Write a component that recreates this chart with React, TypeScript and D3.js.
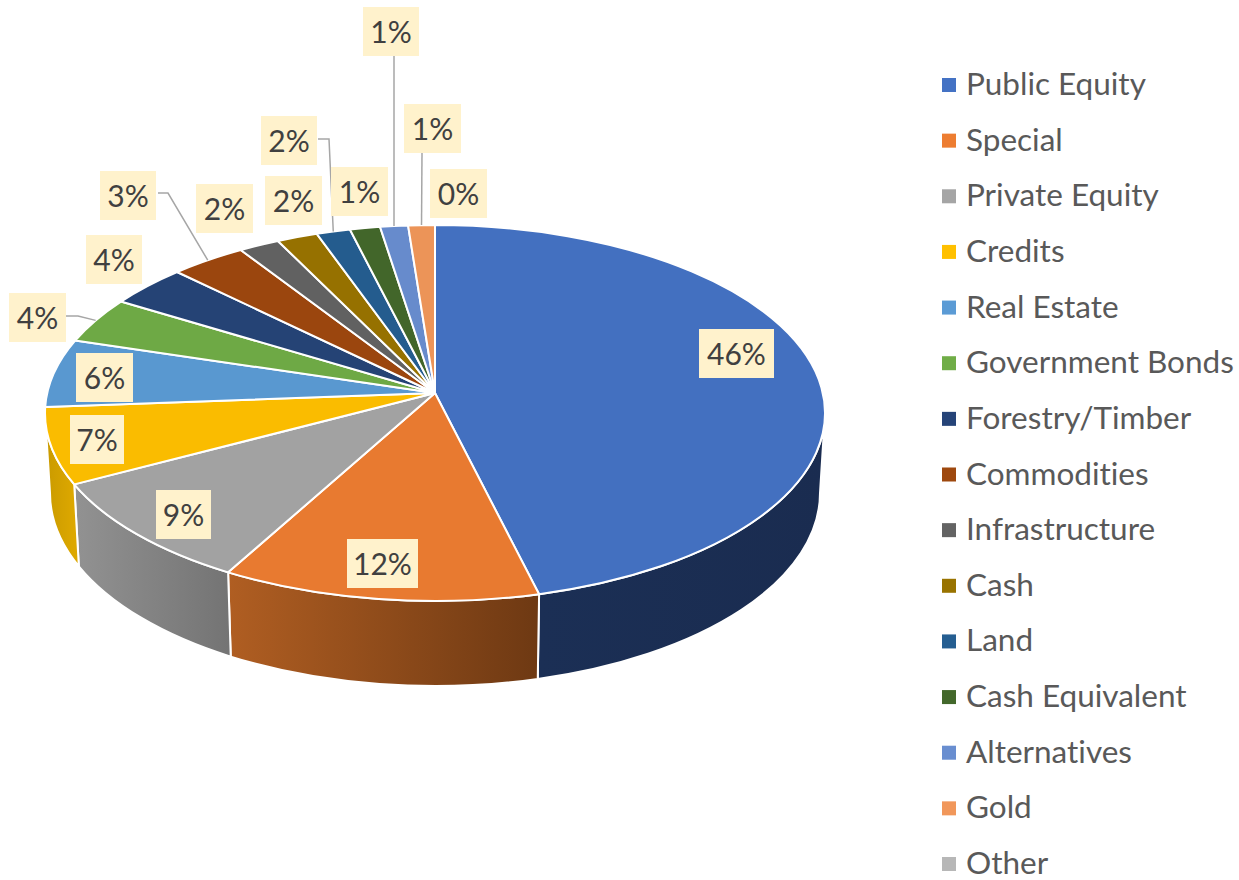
import React from "react";
import * as d3 from "d3";

const categories = [
  "Public Equity", "Special", "Private Equity", "Credits", "Real Estate",
  "Government Bonds", "Forestry/Timber", "Commodities", "Infrastructure",
  "Cash", "Land", "Cash Equivalent", "Alternatives", "Gold", "Other",
];
// slice sizes as drawn on the (perspective) pie
const sliceShares = [45.7, 13.2, 9.9, 6.7, 5.8, 3.8, 3.4, 3.2, 1.7, 1.7, 1.4, 1.25, 1.15, 1.1, 0];
const percentLabels = ["46%", "12%", "9%", "7%", "6%", "4%", "4%", "3%", "2%", "2%", "2%", "1%", "1%", "1%", "0%"];
const colors = [
  "#4472C4", "#ED7D31", "#A5A5A5", "#FFC000", "#5B9BD5", "#70AD47", "#264478",
  "#9E480E", "#636363", "#997300", "#255E91", "#43682B", "#698ED0", "#F1975A", "#B7B7B7",
];

// side wall shading, left and right end of each visible wall
const wallShades: Record<string, [string, string]> = {
  "Public Equity": ["#1B2F55", "#1A2C50"],
  Special: ["#B05E22", "#6E3913"],
  "Private Equity": ["#929292", "#747474"],
  Credits: ["#C99A00", "#DDA800"],
};

// hand placed data label boxes: left, top, width
const labelBoxes = [
  [699, 329, 75], [347, 539, 71], [156, 490, 55], [70, 415, 54], [76, 353, 57],
  [9, 293, 57], [86, 235, 56], [100, 171, 56], [196, 184, 57], [265, 176, 57],
  [261, 116, 56], [331, 167, 57], [363, 7, 56], [404, 104, 57], [430, 169, 57],
];
const boxHeight = 49;

// leader lines: slice index, then the points before the slice edge
const leaders: [number, number[][]][] = [
  [5, [[66, 316], [78, 316]]],
  [7, [[158, 193], [168, 193]]],
  [10, [[318, 139], [329, 139]]],
  [12, [[394, 56]]],
  [13, [[422, 153]]],
];

const W = 1239;
const H = 880;
const apex = { x: 435, y: 393 };
const top = { cx: 435, cy: 413, rx: 390, ry: 188 };
const bottom = { cx: 435, cy: 493, rx: 385, ry: 193 };
const FONT = "Lato, 'Open Sans', sans-serif";

type Ell = typeof top;
const pt = (e: Ell, a: number): [number, number] => [
  e.cx + e.rx * Math.sin(a),
  e.cy - e.ry * Math.cos(a),
];

const legendY = d3.scalePoint<string>().domain(categories).range([85, 864]);
const colorOf = d3.scaleOrdinal<string, string>().domain(categories).range(colors);

const App: React.FC = () => {
  const arcs = d3
    .pie<number>()
    .sort(null)
    .startAngle(0)
    .endAngle(2 * Math.PI)(sliceShares);

  const slicePath = (a0: number, a1: number) => {
    const [x0, y0] = pt(top, a0);
    const [x1, y1] = pt(top, a1);
    const large = a1 - a0 > Math.PI ? 1 : 0;
    return `M${apex.x},${apex.y}L${x0},${y0}A${top.rx},${top.ry} 0 ${large} 1 ${x1},${y1}Z`;
  };

  const wallPath = (a0: number, a1: number) => {
    const [x0, y0] = pt(top, a0);
    const [x1, y1] = pt(top, a1);
    const [x2, y2] = pt(bottom, a1);
    const [x3, y3] = pt(bottom, a0);
    return (
      `M${x0},${y0}A${top.rx},${top.ry} 0 0 1 ${x1},${y1}L${x2},${y2}` +
      `A${bottom.rx},${bottom.ry} 0 0 0 ${x3},${y3}Z`
    );
  };

  // only the front slices show a wall
  const walls = arcs
    .map((d, i) => ({
      name: categories[i],
      a0: Math.max(d.startAngle, Math.PI / 2),
      a1: Math.min(d.endAngle, 1.5 * Math.PI),
    }))
    .filter((d) => d.a1 > d.a0 && wallShades[d.name]);

  return (
    <svg
      width={W}
      height={H}
      style={{ position: "absolute", left: 0, top: 0, display: "block", fontVariantLigatures: "none" }}
      fontFamily={FONT}
    >
      <defs>
        {walls.map((w, i) => (
          <linearGradient
            key={w.name}
            id={`wall${i}`}
            gradientUnits="userSpaceOnUse"
            x1={Math.min(pt(top, w.a0)[0], pt(top, w.a1)[0])}
            x2={Math.max(pt(top, w.a0)[0], pt(top, w.a1)[0])}
            y1={0}
            y2={0}
          >
            <stop offset="0" stopColor={wallShades[w.name][0]} />
            <stop offset="1" stopColor={wallShades[w.name][1]} />
          </linearGradient>
        ))}
      </defs>

      {walls.map((w, i) => (
        <path
          key={w.name}
          d={wallPath(w.a0, w.a1)}
          fill={`url(#wall${i})`}
          stroke="#fff"
          strokeWidth={2}
        />
      ))}

      {arcs.map((d, i) =>
        d.value > 0 ? (
          <path
            key={categories[i]}
            d={slicePath(d.startAngle, d.endAngle)}
            fill={d3.color(colorOf(categories[i]))!.darker(0.06).formatHex()}
            stroke="#fff"
            strokeWidth={2}
            strokeLinejoin="round"
          />
        ) : null,
      )}

      {leaders.map(([idx, pts]) => {
        const mid = (arcs[idx].startAngle + arcs[idx].endAngle) / 2;
        const line = d3.line()([...(pts as [number, number][]), pt(top, mid)]);
        return (
          <path key={idx} d={line ?? ""} fill="none" stroke="#A6A6A6" strokeWidth={1.5} />
        );
      })}

      {percentLabels.map((label, i) => {
        const [x, y, w] = labelBoxes[i];
        return (
          <g key={i}>
            <rect x={x} y={y} width={w} height={boxHeight} fill="#FFF2CC" />
            <text
              x={x + w / 2}
              y={y + boxHeight / 2 + 11}
              textAnchor="middle"
              fontSize={30}
              fill="#404040"
            >
              {label}
            </text>
          </g>
        );
      })}

      {categories.map((name) => {
        const y = legendY(name) as number;
        return (
          <g key={name}>
            <rect x={942} y={y - 7} width={14} height={14} fill={colorOf(name)} />
            <text x={966} y={y + 10} fontSize={31.5} fill="#595959">
              {name}
            </text>
          </g>
        );
      })}
    </svg>
  );
};

export default App;
